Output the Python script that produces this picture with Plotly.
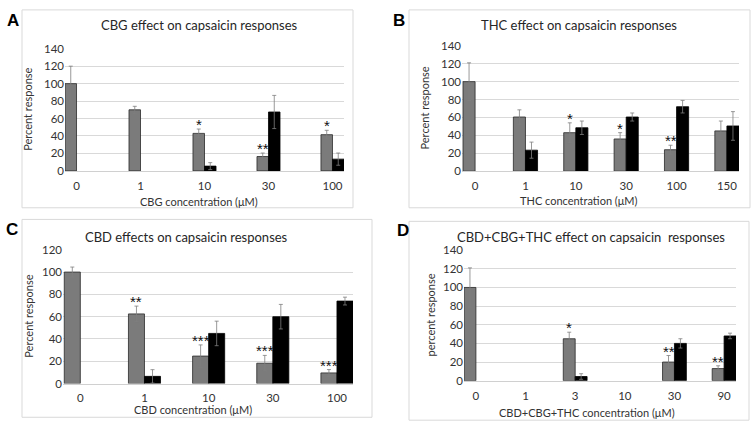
import plotly.graph_objects as go

W, H = 754, 432

# ---------------- data ----------------
a_cats = ["0", "1", "10", "30", "100"]
a_gray = [100, 70, 43, 16.5, 41.5]
a_gray_err = [20, 4, 5, 4, 5]
a_black = [None, None, 5.5, 67.5, 13.5]
a_black_err = [None, None, 4, 19, 7]
a_stars = ["", "", "*", "**", "*"]

b_cats = ["0", "1", "10", "30", "100", "150"]
b_gray = [100, 60.5, 43, 36, 24, 45]
b_gray_err = [21, 8, 11, 7, 5, 11]
b_black = [None, 23.5, 48.5, 60.5, 72, 50.5]
b_black_err = [None, 9, 7.5, 4.5, 7, 16]
b_stars = ["", "", "*", "*", "**", ""]

c_cats = ["0", "1", "10", "30", "100"]
c_gray = [100, 62.5, 24.7, 18.3, 9.6]
c_gray_err = [4.5, 7, 10, 7, 3]
c_black = [None, 6.5, 45, 60, 74]
c_black_err = [None, 6, 11, 11, 3.5]
c_stars = ["", "**", "***", "***", "***"]

d_cats = ["0", "1", "3", "10", "30", "90"]
d_gray = [100, None, 45, None, 20, 13]
d_gray_err = [21, None, 7, None, 7, 3]
d_black = [None, None, 4.5, None, 40, 48]
d_black_err = [None, None, 3, None, 5, 3]
d_stars = ["", "", "*", "", "**", "**"]

panels = [
    dict(letter="A", title="CBG effect on capsaicin responses", xtitle="CBG concentration (\u03bcM)",
         ytitle="Percent response", cats=a_cats, gray=a_gray, gerr=a_gray_err, black=a_black,
         berr=a_black_err, stars=a_stars, ymax=140,
         px=(65, 344), py=(43, 169), xr=(-0.18, 4.18), bw=0.18,
         box=(22, 3, 353, 207), lpos=(13, 14), tpos=(199, 19), xtpos=(199, 201), ytx=28),
    dict(letter="B", title="THC effect on capsaicin responses", xtitle="THC concentration (\u03bcM)",
         ytitle="Percent response", cats=b_cats, gray=b_gray, gerr=b_gray_err, black=b_black,
         berr=b_black_err, stars=b_stars, ymax=140,
         px=(462, 739), py=(40, 169.3), xr=(-0.26, 5.24), bw=0.24,
         box=(409, 3, 750, 207), lpos=(399, 14), tpos=(579, 19), xtpos=(579, 200), ytx=425),
    dict(letter="C", title="CBD effects on capsaicin responses", xtitle="CBD concentration (\u03bcM)",
         ytitle="Percent response", cats=c_cats, gray=c_gray, gerr=c_gray_err, black=c_black,
         berr=c_black_err, stars=c_stars, ymax=120,
         px=(63, 353), py=(250.3, 388.3), xr=(-0.27, 4.25), bw=0.25,
         box=(22, 219, 372, 423), lpos=(12, 229), tpos=(186, 237), xtpos=(193, 415), ytx=29),
    dict(letter="D", title="CBD+CBG+THC effect on capsaicin  responses", xtitle="CBD+CBG+THC concentration (\u03bcM)",
         ytitle="percent response", cats=d_cats, gray=d_gray, gerr=d_gray_err, black=d_black,
         berr=d_black_err, stars=d_stars, ymax=140,
         px=(464, 736), py=(250.7, 385.3), xr=(-0.24, 5.24), bw=0.24,
         box=(409, 221, 749, 426), lpos=(403, 230), tpos=(591, 237), xtpos=(587, 418), ytx=430),
]

FONT = "Lato, 'Open Sans', sans-serif"
fig = go.Figure()
shapes = []
annotations = []

for i, p in enumerate(panels):
    n = i + 1
    xa = "x" if n == 1 else f"x{n}"
    ya = "y" if n == 1 else f"y{n}"
    xs = list(range(len(p["cats"])))
    bw = p["bw"]
    err_style = dict(type="data", thickness=0.8, width=2, color="#7f7f7f")
    fig.add_trace(go.Bar(x=xs, y=p["gray"], width=bw, offset=-bw, xaxis=xa, yaxis=ya,
                         marker=dict(color="#7b7b7b", line=dict(color="#2a2a2a", width=0.8)),
                         error_y=dict(array=p["gerr"], **err_style), showlegend=False))
    fig.add_trace(go.Bar(x=xs, y=p["black"], width=bw, offset=0, xaxis=xa, yaxis=ya,
                         marker=dict(color="#000000", line=dict(color="#000000", width=0.8)),
                         error_y=dict(array=[e if e is not None else 0 for e in p["berr"]], **err_style),
                         showlegend=False))
    # stars above gray bars
    for xi, s in enumerate(p["stars"]):
        if s:
            top = p["gray"][xi] + p["gerr"][xi]
            annotations.append(dict(x=xi - bw / 2, y=top, xref=xa, yref=ya, text=s, showarrow=False,
                                    yanchor="bottom", yshift=-6,
                                    font=dict(size=15, color="#111111", family="Liberation Sans, Arial")))
    x0, x1 = p["px"]
    y0, y1 = p["py"]
    layout_x = dict(domain=[x0 / W, x1 / W], range=list(p["xr"]), anchor=ya,
                    tickmode="array", tickvals=xs, ticktext=p["cats"], showgrid=False,
                    zeroline=False, showline=True, linecolor="#d0d0d0", linewidth=1,
                    ticks="outside", ticklen=4, tickcolor="rgba(0,0,0,0)",
                    tickfont=dict(family=FONT, size=11.5, color="#333333"), fixedrange=True)
    layout_y = dict(domain=[1 - y1 / H, 1 - y0 / H], range=[0, p["ymax"]], anchor=xa,
                    dtick=20, showgrid=True, gridcolor="#d9d9d9", gridwidth=1, zeroline=False,
                    showline=False, ticks="", ticklen=0,
                    tickfont=dict(family=FONT, size=11.5, color="#333333"), fixedrange=True)
    fig.update_layout(**{("xaxis" if n == 1 else f"xaxis{n}"): layout_x,
                         ("yaxis" if n == 1 else f"yaxis{n}"): layout_y})
    bx0, by0, bx1, by1 = p["box"]
    shapes.append(dict(type="rect", xref="paper", yref="paper", x0=bx0 / W, x1=bx1 / W,
                       y0=1 - by1 / H, y1=1 - by0 / H, line=dict(color="#d9d9d9", width=1)))
    annotations.append(dict(x=p["lpos"][0] / W, y=1 - p["lpos"][1] / H, xref="paper", yref="paper",
                            text=f"<b>{p['letter']}</b>", showarrow=False, xanchor="center", yanchor="middle",
                            font=dict(family="Liberation Sans, Arial", size=17, color="#000")))
    annotations.append(dict(x=p["tpos"][0] / W, y=1 - p["tpos"][1] / H, xref="paper", yref="paper",
                            text=p["title"], showarrow=False, xanchor="center", yanchor="middle",
                            font=dict(family=FONT, size=13, color="#262626")))
    annotations.append(dict(x=p["xtpos"][0] / W, y=1 - p["xtpos"][1] / H, xref="paper", yref="paper",
                            text=p["xtitle"], showarrow=False, xanchor="center", yanchor="middle",
                            font=dict(family=FONT, size=11, color="#333333")))
    annotations.append(dict(x=p["ytx"] / W, y=1 - ((y0 + y1) / 2) / H, xref="paper", yref="paper",
                            text=p["ytitle"], showarrow=False, textangle=-90, xanchor="center", yanchor="middle",
                            font=dict(family=FONT, size=11, color="#333333")))

fig.update_layout(width=W, height=H, margin=dict(l=0, r=0, t=0, b=0), autosize=False,
                  paper_bgcolor="white", plot_bgcolor="white", barmode="overlay",
                  shapes=shapes, annotations=annotations, showlegend=False)

fig.write_html("out.html", config={"displayModeBar": False},
               post_script="document.body.style.margin='0px';document.body.style.overflow='hidden';")
